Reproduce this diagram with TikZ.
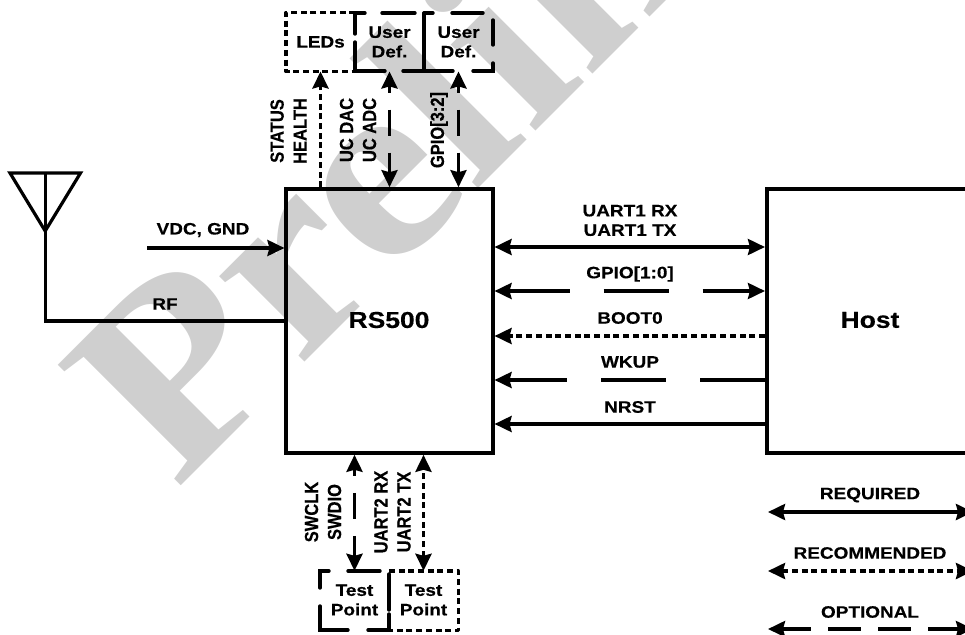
\documentclass[tikz,border=0pt]{standalone}
\usepackage{fontspec}
\setmainfont{Liberation Sans}[BoldFeatures={FakeBold=0.35}]
\newfontfamily\wmfont{Liberation Serif}
\usetikzlibrary{arrows.meta}
\definecolor{wm}{HTML}{CFCFCF}
\tikzset{
  x=1pt,y=-1pt,
  wire/.style={line width=3.4pt,line cap=butt},
  tip/.style={>={Stealth[length=17pt,width=16pt,inset=2pt]}},
  reqline/.style={wire,tip},
  recline/.style={wire,tip,dash pattern=on 6pt off 3.7pt},
  opthline/.style={wire,tip,dash pattern=on 65pt off 34pt},
  optvline/.style={wire,tip,dash pattern=on 26pt off 17pt},
  optlegend/.style={wire,tip,dash pattern=on 33pt off 17pt},
  blockbox/.style={draw,line width=3.6pt,minimum width=206.5pt,minimum height=264pt,inner sep=0pt},
  cell/.style={inner sep=0pt,minimum width=69pt,minimum height=58.5pt},
  lab/.style={inner sep=0pt,font=\fontsize{16.5}{19.5}\selectfont\bfseries,align=center,xscale=1.15},
  biglab/.style={lab,font=\fontsize{23}{26}\selectfont\bfseries},
  vlab/.style={inner sep=0pt,font=\fontsize{16.5}{20}\selectfont\bfseries,align=center,rotate=90,yscale=1.15},
  dotbox/.style={line width=3.4pt,line join=round,dash pattern=on 6pt off 3.7pt},
  seg/.style={line width=3.4pt,line cap=round},
  ant/.style={line width=3.2pt,line join=miter},
}
\begin{document}
\begin{tikzpicture}
\useasboundingbox (0,0) rectangle (965,634);
\clip (0,0) rectangle (965,634);
% watermark
\node[anchor=base west,rotate=45,xscale=1.085,inner sep=0pt,text=wm,font=\fontsize{263}{263}\selectfont\wmfont\bfseries] (wmark) at (176,491) {Preliminary};
% main blocks
\node[blockbox] (rs) at (389.5,321) {};
\node[blockbox] (host) at (870,321) {};
\node[biglab] (rstext) at (389,320) {RS500};
\node[biglab] (hosttext) at (870,320) {Host};
% upper boxes
\node[cell] (leds) at (320.5,42) {};
\node[cell] (ua) at (389.5,42) {};
\node[cell] (ub) at (458.5,42) {};
\node[lab] (ledst) at (320.5,42) {LEDs};
\node[lab] (uat) at (389.5,42) {User\\Def.};
\node[lab] (ubt) at (458.5,42) {User\\Def.};
\draw[dotbox] (leds.north east) -- (leds.north west) -- (leds.south west) -- (leds.south east);
\draw[seg] (355,13) -- (355,34);
\draw[seg] (355,42) -- (355,71) -- (385,71);
\draw[seg] (355,13) -- (365,13);
\draw[seg] (382,13) -- (415,13);
\draw[seg] (403,71) -- (424,71);
\draw[seg] (424,13) -- (424,71) -- (453,71);
\draw[seg] (424,13) -- (433,13);
\draw[seg] (452,13) -- (483,13);
\draw[seg] (493,20) -- (493,45);
\draw[seg] (493,63) -- (493,71) -- (473,71);
% test points
\node[cell,minimum height=59pt] (tpa) at (354.5,600.5) {};
\node[cell,minimum height=59pt] (tpb) at (423.5,600.5) {};
\node[lab] (tpat) at (354.5,600) {Test\\Point};
\node[lab] (tpbt) at (423.5,600) {Test\\Point};
\draw[dotbox] (tpb.north west) -- (tpb.north east) -- (tpb.south east) -- (tpb.south west);
\draw[seg] (329,571) -- (320,571) -- (320,588);
\draw[seg] (320,606) -- (320,630) -- (348,630);
\draw[seg] (348,571) -- (380,571);
\draw[seg] (368,630) -- (389,630) -- (389,614);
\draw[seg] (389,574) -- (389,610);
% top connectors
\draw[recline,->] (leds.south |- rs.north) -- (leds.south);
\draw[optvline,<->,dash phase=19pt] (ua.south) -- (ua.south |- rs.north);
\draw[optvline,<->,dash phase=19pt] (ub.south) -- (ub.south |- rs.north);
% bottom connectors
\draw[optvline,<->,dash phase=19pt] (tpa.north |- rs.south) -- (tpa.north);
\draw[recline,<->] (tpb.north) -- (tpb.north |- rs.south);
% antenna
\coordinate (antl) at (10,173);
\coordinate (antr) at (80.5,173);
\coordinate (antb) at (45.2,231);
\coordinate (antt) at (45.2,173);
\draw[ant] (antl) -- (antr) -- (antb) -- cycle;
\draw[ant] (antt) -- (antb) -- (antb |- rs.center) -- (rs.west);
% power
\coordinate (vdc) at (147,248);
\draw[reqline,->] (vdc) -- (vdc -| rs.west);
% host links
\coordinate (y1) at (0,247);\coordinate (y2) at (0,291);\coordinate (y3) at (0,336);\coordinate (y4) at (0,380);\coordinate (y5) at (0,424);
\draw[reqline,<->] (rs.east |- y1) -- (host.west |- y1);
\draw[opthline,<->,dash phase=4pt] (rs.east |- y2) -- (host.west |- y2);
\draw[recline,->] (host.west |- y3) -- (rs.east |- y3);
\draw[opthline,->] (host.west |- y4) -- (rs.east |- y4);
\draw[reqline,->] (host.west |- y5) -- (rs.east |- y5);
% legend
\coordinate (la) at (768,512);\coordinate (lb) at (973,512);
\coordinate (lc) at (768,571);\coordinate (ld) at (973,571);
\coordinate (le) at (768,629);\coordinate (lf) at (973,629);
\draw[reqline,<->] (la) -- (lb);
\draw[recline,<->] (lc) -- (ld);
\draw[optlegend,<->,dash phase=4pt] (le) -- (lf);
% labels
\node[lab] (t1) at (630,220.5) {UART1 RX\\UART1 TX};
\node[lab] (t2) at (630,274) {GPIO[1:0]};
\node[lab] (t3) at (630,318) {BOOT0};
\node[lab] (t4) at (630,362) {WKUP};
\node[lab] (t5) at (630,407) {NRST};
\node[lab] (t6) at (203,230) {VDC, GND};
\node[lab] (t7) at (165,304) {RF};
\node[lab] (t8) at (870,495) {REQUIRED};
\node[lab] (t9) at (870,553) {RECOMMENDED};
\node[lab] (t10) at (870,612) {OPTIONAL};
\node[vlab] (v1) at (288.5,131) {STATUS\\HEALTH};
\node[vlab] (v2) at (358,130) {UC DAC\\UC ADC};
\node[vlab] (v3) at (439,130) {GPIO[3:2]};
\node[vlab] (v4) at (323,512) {SWCLK\\SWDIO};
\node[vlab] (v5) at (392.5,512) {UART2 RX\\UART2 TX};
\end{tikzpicture}
\end{document}
